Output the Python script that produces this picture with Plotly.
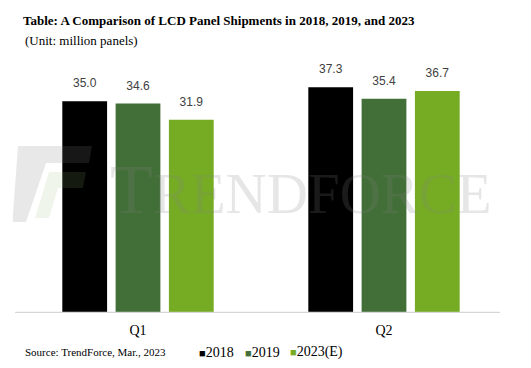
import plotly.graph_objects as go

categories = ["Q1", "Q2"]
series_names = ["2018", "2019", "2023(E)"]
values_2018 = [35.0, 37.3]
values_2019 = [34.6, 35.4]
values_2023 = [31.9, 36.7]
colors = ["#000000", "#426f37", "#76ac23"]

SERIF = "Liberation Serif, Times New Roman, serif"

W, H = 531, 368
ML, MR, MT, MB = 15, 24, 71, 56
PW = W - ML - MR
PH = H - MT - MB
LEGEND_X = [197, 243, 288]


def px(x):
    return (x - ML) / PW


def py(y):
    return (H - MB - y) / PH


fig = go.Figure()
for i, (name, vals, col) in enumerate(zip(series_names, [values_2018, values_2019, values_2023], colors)):
    fig.add_trace(go.Bar(
        x=categories, y=vals, name=name, offsetgroup=str(i),
        marker=dict(color=col, line=dict(width=0)), showlegend=False,
    ))
    fig.add_trace(go.Scatter(
        x=categories, y=vals, offsetgroup=str(i), mode="markers+text",
        marker=dict(size=16, opacity=0), text=[f"{v:.1f}" for v in vals],
        textposition="top center", hoverinfo="skip", showlegend=False,
        textfont=dict(family="Liberation Sans", size=12, color="#404040"),
        cliponaxis=False,
    ))

# watermark logo
def path(pts):
    return "M " + " L ".join(f"{px(a):.4f},{py(b):.4f}" for a, b in pts) + " Z"

fig.add_shape(type="path", xref="paper", yref="paper", layer="above",
              path=path([(18, 146), (92, 146), (89, 163), (46, 163), (26, 222), (13, 222), (13, 214)]),
              fillcolor="rgba(128,128,128,0.18)", line=dict(width=0))
fig.add_shape(type="path", xref="paper", yref="paper", layer="above",
              path=path([(49, 172), (86, 172), (83, 188), (58, 188), (49, 218), (35, 218)]),
              fillcolor="rgba(150,185,110,0.14)", line=dict(width=0))
# baseline under the categories
fig.add_shape(type="rect", xref="paper", yref="paper", layer="above",
              x0=px(15), x1=px(500), y0=py(313), y1=py(311.8),
              fillcolor="#d6d6d6", line=dict(width=0))

annotations = [
    dict(text="(Unit: million panels)", xref="paper", yref="paper", x=px(23), y=py(40),
         xanchor="left", yanchor="middle", showarrow=False,
         font=dict(family=SERIF, size=13, color="#000000")),
    dict(text="Source: TrendForce, Mar., 2023", xref="paper", yref="paper", x=px(23), y=py(352),
         xanchor="left", yanchor="middle", showarrow=False,
         font=dict(family=SERIF, size=11, color="#000000")),
    dict(text="<span style='font-size:70px'>T</span>RENDFORCE", xref="paper", yref="paper",
         x=px(108), y=py(189), xanchor="left", yanchor="middle", showarrow=False,
         font=dict(family=SERIF, size=57, color="rgba(128,128,128,0.2)")),
]
for lx, n, c in zip(LEGEND_X, series_names, colors):
    annotations.append(dict(
        text=f"<span style='color:{c};font-size:11px'>■</span>{n}", xref="paper", yref="paper",
        x=px(lx), y=py(352), xanchor="left", yanchor="middle", showarrow=False,
        font=dict(family=SERIF, size=14, color="#000000")))

fig.update_layout(
    width=W, height=H,
    margin=dict(l=ML, r=MR, t=MT, b=MB, autoexpand=False),
    paper_bgcolor="white", plot_bgcolor="white",
    barmode="group", bargap=0.35, bargroupgap=0.16, scattermode="group",
    title=dict(text="<b>Table: A Comparison of LCD Panel Shipments in 2018, 2019, and 2023</b>",
               x=23 / W, xanchor="left", xref="container", y=1 - 20 / H, yanchor="middle",
               font=dict(family=SERIF, size=13, color="#000000")),
    xaxis=dict(showline=False, showgrid=False, zeroline=False,
               ticks="", ticklabelstandoff=8,
               tickfont=dict(family=SERIF, size=14, color="#000000")),
    yaxis=dict(range=[0, 40], visible=False),
    showlegend=False,
    annotations=annotations,
)

fig.write_html("out.html", config={"displayModeBar": False},
               post_script="document.body.style.margin='0';")
